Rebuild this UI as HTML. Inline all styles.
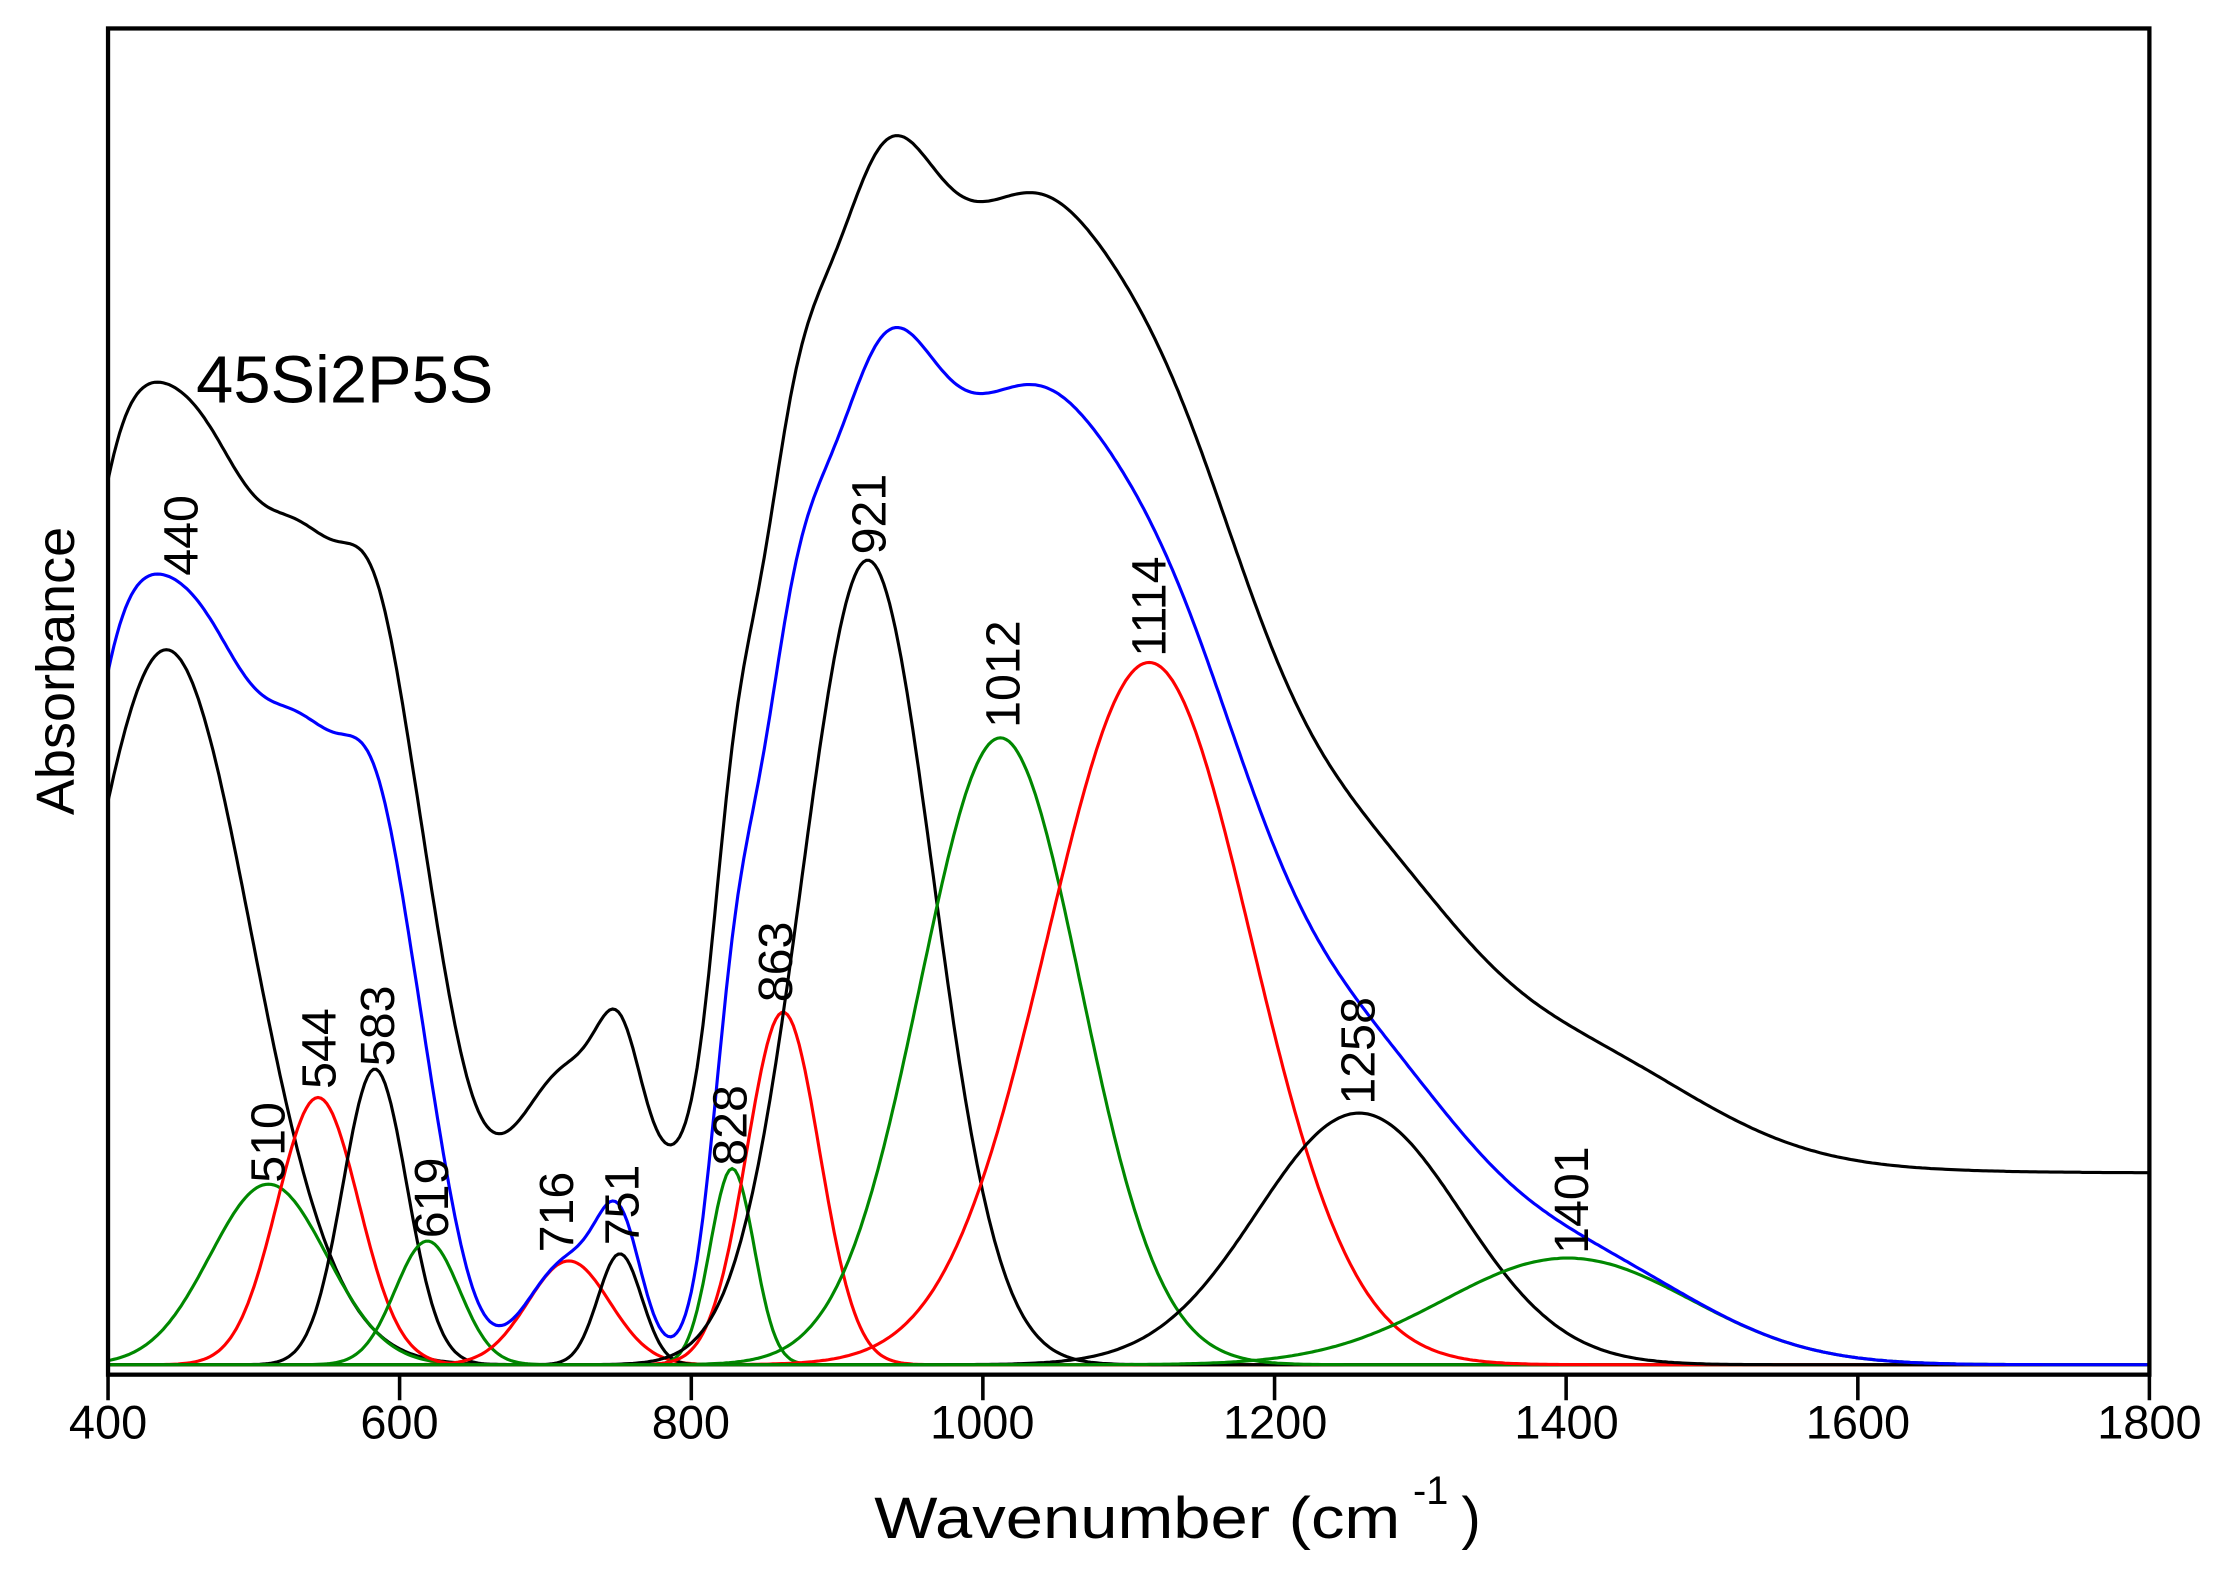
<!DOCTYPE html>
<html><head><meta charset="utf-8"><style>
html,body{margin:0;padding:0;background:#fff;}
svg{display:block;}
text{font-family:"Liberation Sans",sans-serif;fill:#000;}
</style></head><body>
<svg id="s" width="2229" height="1572" viewBox="0 0 1568 1105.8" xmlns="http://www.w3.org/2000/svg">
<rect x="0" y="0" width="1568" height="1106" fill="#fff"/>
<g id="curves" fill="none" stroke-width="2.2"></g>
<rect x="76" y="20" width="1436" height="947" fill="none" stroke="#000" stroke-width="3"/>
<g stroke="#000" stroke-width="2.5">
<line x1="76" y1="967" x2="76" y2="985"/><line x1="281.1" y1="967" x2="281.1" y2="985"/><line x1="486.3" y1="967" x2="486.3" y2="985"/><line x1="691.4" y1="967" x2="691.4" y2="985"/><line x1="896.6" y1="967" x2="896.6" y2="985"/><line x1="1101.7" y1="967" x2="1101.7" y2="985"/><line x1="1306.9" y1="967" x2="1306.9" y2="985"/><line x1="1512" y1="967" x2="1512" y2="985"/>
</g>
<g font-size="33" text-anchor="middle">
<text x="76" y="1012">400</text><text x="281" y="1012">600</text><text x="486" y="1012">800</text><text x="691" y="1012">1000</text><text x="897" y="1012">1200</text><text x="1102" y="1012">1400</text><text x="1307" y="1012">1600</text><text x="1512" y="1012">1800</text>
</g>
<text x="615" y="1082" font-size="41" textLength="370" lengthAdjust="spacingAndGlyphs">Wavenumber (cm</text><text x="994" y="1058" font-size="28">-1</text><text x="1028" y="1082" font-size="41">)</text>
<text transform="translate(52,472) rotate(-90)" font-size="38" text-anchor="middle">Absorbance</text>
<text x="138" y="283" font-size="47">45Si2P5S</text>
<g font-size="34">
<text transform="translate(139,405) rotate(-90)">440</text>
<text transform="translate(200,832) rotate(-90)">510</text>
<text transform="translate(236,766) rotate(-90)">544</text>
<text transform="translate(277,750) rotate(-90)">583</text>
<text transform="translate(315,871) rotate(-90)">619</text>
<text transform="translate(403,881) rotate(-90)">716</text>
<text transform="translate(449,876) rotate(-90)">751</text>
<text transform="translate(525,820) rotate(-90)">828</text>
<text transform="translate(557,705) rotate(-90)">863</text>
<text transform="translate(623,390) rotate(-90)">921</text>
<text transform="translate(717,512) rotate(-90)">1012</text>
<text transform="translate(820,462) rotate(-90)">1114</text>
<text transform="translate(967,777) rotate(-90)">1258</text>
<text transform="translate(1117,882) rotate(-90)">1401</text>
</g>
</svg>
<script>
(function(){
var B=960;
var P=[[440,503,58,'#000'],[510,127,40,'#080'],[544,188,28,'#f00'],[583,208,22,'#000'],[619,87,22,'#080'],[716,73,28,'#f00'],[751,78,15,'#000'],[828,138,15,'#080'],[863,248,25,'#f00'],[921,566,45,'#000'],[1012,441,55,'#080'],[1114,494,70,'#f00'],[1258,177,70,'#000'],[1401,75,85,'#080']];
var C=[[400,88,25],[560,30,30],[605,70,25]];
function X(w){return 76+(w-400)*1436/1400;}
function g(p,w){var d=w-p[0];return p[1]*Math.exp(-d*d/(2*p[2]*p[2]));}
var G=document.getElementById('curves'),ns='http://www.w3.org/2000/svg';
function add(d,c){var e=document.createElementNS(ns,'path');e.setAttribute('d',d);e.setAttribute('stroke',c);G.appendChild(e);}
P.forEach(function(p){var d='';for(var w=400;w<=1800;w+=2){d+=(w==400?'M':'L')+X(w).toFixed(1)+' '+(B-g(p,w)).toFixed(1);}add(d,p[3]);});
var db='',dt='';
for(var w=400;w<=1800;w+=2){var s=0;P.forEach(function(p){s+=g(p,w);});C.forEach(function(p){s+=g(p,w);});
 var yb=B-s;var ex=8*Math.exp(-Math.pow((w-1450)/120,2)/2);
 db+=(w==400?'M':'L')+X(w).toFixed(1)+' '+yb.toFixed(1);
 dt+=(w==400?'M':'L')+X(w).toFixed(1)+' '+(yb-135-ex).toFixed(1);}
add(db,'#00f');add(dt,'#000');
})();
</script>
</body></html>
